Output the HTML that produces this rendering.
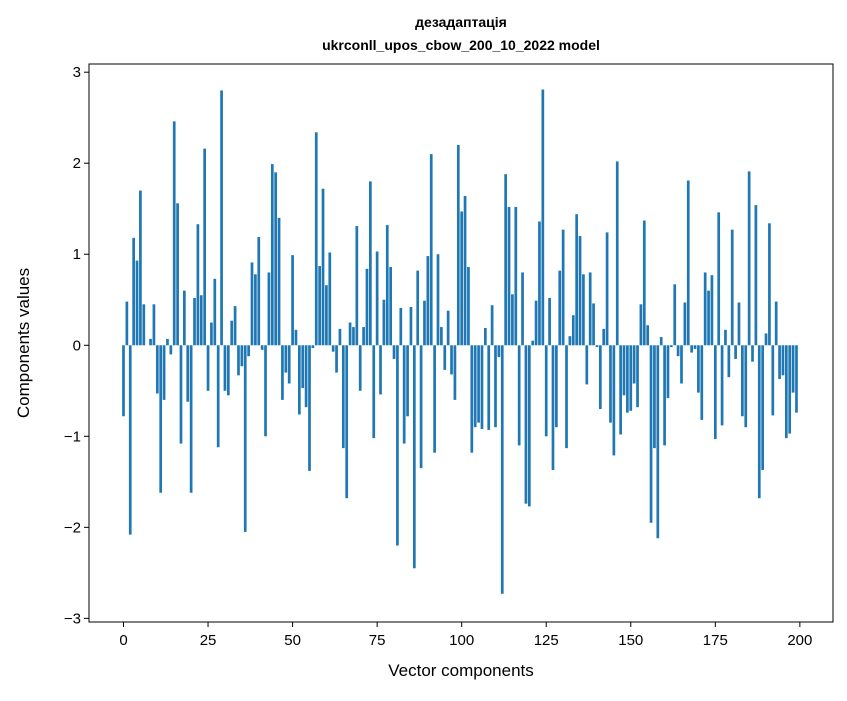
<!DOCTYPE html>
<html><head><meta charset="utf-8"><style>
body{margin:0;background:#fff;font-family:"Liberation Sans","DejaVu Sans",sans-serif}
</style></head><body>
<svg id="chart" width="847" height="696" xmlns="http://www.w3.org/2000/svg" font-family="Liberation Sans, DejaVu Sans, sans-serif">
<rect width="847" height="696" fill="#fff"/>
<text x="461" y="27" text-anchor="middle" font-size="14" font-weight="bold">дезадаптація</text>
<text x="461" y="50" text-anchor="middle" font-size="14" font-weight="bold">ukrconll_upos_cbow_200_10_2022 model</text>
<g id="bars"></g>
<g id="xticks"></g>
<g id="yticks"></g>
<rect x="89" y="64" width="744" height="558" fill="none" stroke="#000" stroke-width="1"/>
<text x="461" y="676" text-anchor="middle" font-size="17">Vector components</text>
<text transform="translate(29,343) rotate(-90)" text-anchor="middle" font-size="17">Components values</text>
</svg>
<script>
const values=[-0.78,0.48,-2.08,1.18,0.93,1.7,0.45,0.0,0.07,0.45,-0.53,-1.62,-0.6,0.07,-0.1,2.46,1.56,-1.08,0.6,-0.62,-1.62,0.52,1.33,0.55,2.16,-0.5,0.25,0.73,-1.12,2.8,-0.5,-0.55,0.27,0.43,-0.33,-0.23,-2.05,-0.12,0.91,0.78,1.19,-0.05,-1.0,0.8,1.99,1.9,1.4,-0.6,-0.3,-0.42,0.99,0.17,-0.76,-0.47,-0.68,-1.38,-0.03,2.34,0.87,1.72,0.66,1.02,-0.07,-0.3,0.18,-1.13,-1.68,0.25,0.2,1.31,-0.5,0.2,0.84,1.8,-1.02,1.03,-0.54,0.5,1.32,0.86,-0.15,-2.2,0.41,-1.08,-0.78,0.42,-2.45,0.82,-1.35,0.49,0.98,2.1,-1.18,1.0,0.2,-0.27,0.38,-0.32,-0.6,2.2,1.47,1.64,0.86,-1.18,-0.9,-0.85,-0.92,0.19,-0.93,0.44,-0.9,-0.13,-2.73,1.88,1.52,0.56,1.52,-1.1,0.8,-1.74,-1.77,0.05,0.49,1.36,2.81,-1.0,0.52,-1.37,-0.9,0.82,1.27,-1.13,0.1,0.33,1.44,1.2,0.78,-0.43,0.8,0.46,-0.02,-0.7,0.18,1.24,-0.85,-1.21,2.02,-0.98,-0.55,-0.74,-0.72,-0.42,-0.68,0.45,1.37,0.22,-1.95,-1.13,-2.12,0.09,-1.1,-0.58,-0.02,0.67,-0.12,-0.42,0.47,1.81,-0.08,-0.04,-0.52,-0.82,0.8,0.6,0.77,-1.03,1.46,-0.88,0.17,-0.35,1.27,-0.15,0.47,-0.78,-0.9,1.91,-0.18,1.54,-1.68,-1.37,0.13,1.34,-0.77,0.48,-0.37,-0.33,-1.02,-0.97,-0.52,-0.74];
const xTicks=[0,25,50,75,100,125,150,175,200];
const yTicks=[-3,-2,-1,0,1,2,3];
const yTickLabels=["\u22123","\u22122","\u22121","0","1","2","3"];
const NS="http://www.w3.org/2000/svg";
const X0=89,X1=833,Y0=64,Y1=622,xmin=-10.2,xmax=209.8,ymin=-3.04,ymax=3.09;
function xs(v){return X0+(v-xmin)/(xmax-xmin)*(X1-X0);}
function ys(v){return Y1-(v-ymin)/(ymax-ymin)*(Y1-Y0);}
const bw=xs(0.8)-xs(0);
const bars=document.getElementById('bars');
values.forEach((v,i)=>{
  const r=document.createElementNS(NS,'rect');
  
  
  const y=Math.min(ys(v),ys(0)),h=Math.abs(ys(v)-ys(0));
  r.setAttribute('x',xs(i)-bw/2);r.setAttribute('y',y);
  r.setAttribute('width',bw);r.setAttribute('height',h);
  r.setAttribute('fill','#1f77b4');
  bars.appendChild(r);
});
const xg=document.getElementById('xticks');
xTicks.forEach(t=>{
  const l=document.createElementNS(NS,'line');
  
  
  l.setAttribute('x1',xs(t));l.setAttribute('x2',xs(t));l.setAttribute('y1',Y1);l.setAttribute('y2',Y1+5);l.setAttribute('stroke','#000');
  xg.appendChild(l);
  const tx=document.createElementNS(NS,'text');
  
  
  tx.setAttribute('x',xs(t));tx.setAttribute('y',Y1+23);tx.setAttribute('text-anchor','middle');tx.setAttribute('font-size','15');
  tx.textContent=t;xg.appendChild(tx);
});
const yg=document.getElementById('yticks');
yTicks.forEach((t,i)=>{
  const l=document.createElementNS(NS,'line');
  
  
  l.setAttribute('x1',X0-5);l.setAttribute('x2',X0);l.setAttribute('y1',ys(t));l.setAttribute('y2',ys(t));l.setAttribute('stroke','#000');
  yg.appendChild(l);
  const tx=document.createElementNS(NS,'text');
  
  
  tx.setAttribute('x',X0-8);tx.setAttribute('y',ys(t)+5);tx.setAttribute('text-anchor','end');tx.setAttribute('font-size','15');
  tx.textContent=yTickLabels[i];yg.appendChild(tx);
});
</script>
</body></html>
